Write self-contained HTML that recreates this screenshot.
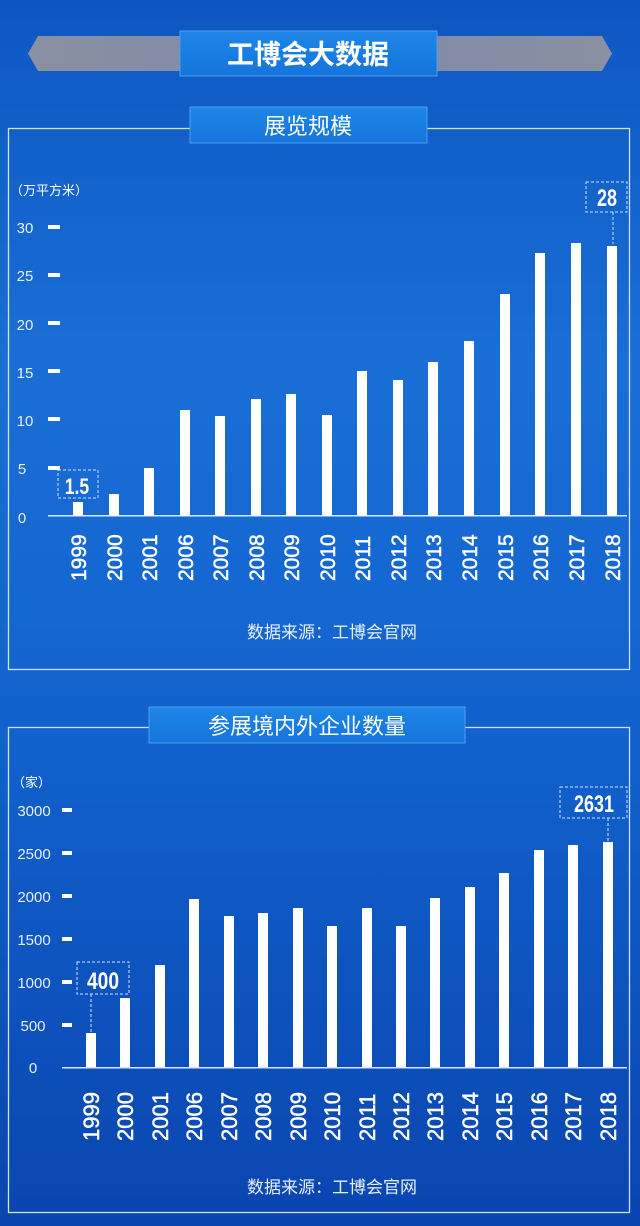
<!DOCTYPE html>
<html><head><meta charset="utf-8"><style>
html,body{margin:0;padding:0;width:640px;height:1226px;overflow:hidden}
body{background:linear-gradient(180deg,#0d56c2 0%,#1a6fd6 30%,#1466d0 50%,#1160cb 62%,#0a45b0 100%)}
</style></head><body>
<svg width="640" height="1226" xmlns="http://www.w3.org/2000/svg" style="position:absolute;left:0;top:0;font-family:'Liberation Sans','Noto Sans CJK SC',sans-serif">
<defs>
<linearGradient id="bx" x1="0" y1="0" x2="0" y2="1"><stop offset="0" stop-color="#1d86e6"/><stop offset="1" stop-color="#1574dc"/></linearGradient>
<linearGradient id="gr" x1="0" y1="0" x2="1" y2="0"><stop offset="0" stop-color="#8a90a4"/><stop offset="0.5" stop-color="#7d8aa8"/><stop offset="1" stop-color="#8a90a4"/></linearGradient>
</defs>
<polygon points="38,36 602,36 612,53.5 602,71 38,71 28,53.5" fill="url(#gr)"/>
<rect x="180" y="31" width="257" height="45" fill="url(#bx)" stroke="#4aa0f0" stroke-width="1"/>
<text x="308" y="64" fill="#fff" font-size="27" font-weight="bold" text-anchor="middle" font-family="'Noto Sans CJK SC',sans-serif">工博会大数据</text>

<rect x="8.5" y="128.5" width="621" height="541" fill="none" stroke="#cfe3ff" stroke-width="1.3"/>
<rect x="190" y="107" width="237" height="36" fill="url(#bx)" stroke="#4aa0f0"/>
<text x="308" y="134" fill="#fff" font-size="22" text-anchor="middle" font-family="'Noto Sans CJK SC',sans-serif">展览规模</text>
<text x="10" y="195" fill="#fff" font-size="13" font-family="'Noto Sans CJK SC',sans-serif">（万平方米）</text>
<g fill="#e8f0ff" font-size="15" text-anchor="middle">
<text x="25" y="233">30</text><text x="25" y="281">25</text><text x="25" y="330">20</text><text x="25" y="378">15</text><text x="25" y="426">10</text><text x="22" y="474">5</text><text x="22" y="523">0</text>
</g>
<g fill="#fff">
<rect x="48" y="225" width="12" height="4"/><rect x="48" y="273" width="12" height="4"/><rect x="48" y="321" width="12" height="4"/><rect x="48" y="369" width="12" height="4"/><rect x="48" y="417" width="12" height="4"/><rect x="48" y="466" width="12" height="4"/>
<rect x="48" y="515" width="579" height="1.5" fill="#d8e8ff"/>
<rect x="73" y="502" width="10" height="14"/>
<rect x="109" y="494" width="10" height="22"/>
<rect x="144" y="468" width="10" height="48"/>
<rect x="180" y="410" width="10" height="106"/>
<rect x="215" y="416" width="10" height="100"/>
<rect x="251" y="399" width="10" height="117"/>
<rect x="286" y="394" width="10" height="122"/>
<rect x="322" y="415" width="10" height="101"/>
<rect x="357" y="371" width="10" height="145"/>
<rect x="393" y="380" width="10" height="136"/>
<rect x="428" y="362" width="10" height="154"/>
<rect x="464" y="341" width="10" height="175"/>
<rect x="500" y="294" width="10" height="222"/>
<rect x="535" y="253" width="10" height="263"/>
<rect x="571" y="243" width="10" height="273"/>
<rect x="607" y="246" width="10" height="270"/>
</g>
<g fill="none" stroke="#cfe3ff" stroke-dasharray="3,2" stroke-width="1">
<rect x="58" y="470" width="40" height="28"/>
<rect x="586" y="182" width="41" height="30"/>
<line x1="613" y1="212" x2="613" y2="244"/>
</g>
<text x="77" y="494" fill="#fff" font-size="22" font-weight="bold" text-anchor="middle" transform="translate(77,0) scale(0.8,1) translate(-77,0)">1.5</text>
<text x="607" y="206" fill="#fff" font-size="24" font-weight="bold" text-anchor="middle" transform="translate(607,0) scale(0.75,1) translate(-607,0)">28</text>
<g fill="#fff" font-size="21" stroke="#fff" stroke-width="0.5">
<text transform="translate(86,581) rotate(-90)">1999</text>
<text transform="translate(122,581) rotate(-90)">2000</text>
<text transform="translate(157,581) rotate(-90)">2001</text>
<text transform="translate(193,581) rotate(-90)">2006</text>
<text transform="translate(228,581) rotate(-90)">2007</text>
<text transform="translate(264,581) rotate(-90)">2008</text>
<text transform="translate(299,581) rotate(-90)">2009</text>
<text transform="translate(335,581) rotate(-90)">2010</text>
<text transform="translate(370,581) rotate(-90)">2011</text>
<text transform="translate(406,581) rotate(-90)">2012</text>
<text transform="translate(441,581) rotate(-90)">2013</text>
<text transform="translate(477,581) rotate(-90)">2014</text>
<text transform="translate(513,581) rotate(-90)">2015</text>
<text transform="translate(548,581) rotate(-90)">2016</text>
<text transform="translate(584,581) rotate(-90)">2017</text>
<text transform="translate(620,581) rotate(-90)">2018</text>
</g>
<text x="332" y="638" fill="#e8f0ff" font-size="17" text-anchor="middle" font-family="'Noto Sans CJK SC',sans-serif">数据来源：工博会官网</text>

<rect x="8.5" y="727.5" width="621" height="485" fill="none" stroke="#cfe3ff" stroke-width="1.3"/>
<rect x="149" y="707" width="316" height="36" fill="url(#bx)" stroke="#4aa0f0"/>
<text x="307" y="734" fill="#fff" font-size="22" text-anchor="middle" font-family="'Noto Sans CJK SC',sans-serif">参展境内外企业数量</text>
<text x="12" y="787" fill="#fff" font-size="13" font-family="'Noto Sans CJK SC',sans-serif">（家）</text>
<g fill="#e8f0ff" font-size="15" text-anchor="middle">
<text x="34" y="816">3000</text><text x="34" y="859">2500</text><text x="34" y="902">2000</text><text x="34" y="945">1500</text><text x="34" y="988">1000</text><text x="33" y="1031">500</text><text x="33" y="1073">0</text>
</g>
<g fill="#fff">
<rect x="62" y="808" width="10" height="4"/><rect x="62" y="851" width="10" height="4"/><rect x="62" y="894" width="10" height="4"/><rect x="62" y="937" width="10" height="4"/><rect x="62" y="980" width="10" height="4"/><rect x="62" y="1023" width="10" height="4"/>
<rect x="62" y="1067" width="565" height="1.5" fill="#d8e8ff"/>
<rect x="86" y="1033" width="10" height="34"/>
<rect x="120" y="998" width="10" height="69"/>
<rect x="155" y="965" width="10" height="102"/>
<rect x="189" y="899" width="10" height="168"/>
<rect x="224" y="916" width="10" height="151"/>
<rect x="258" y="913" width="10" height="154"/>
<rect x="293" y="908" width="10" height="159"/>
<rect x="327" y="926" width="10" height="141"/>
<rect x="362" y="908" width="10" height="159"/>
<rect x="396" y="926" width="10" height="141"/>
<rect x="430" y="898" width="10" height="169"/>
<rect x="465" y="887" width="10" height="180"/>
<rect x="499" y="873" width="10" height="194"/>
<rect x="534" y="850" width="10" height="217"/>
<rect x="568" y="845" width="10" height="222"/>
<rect x="603" y="842" width="10" height="225"/>
</g>
<g fill="none" stroke="#cfe3ff" stroke-dasharray="3,2" stroke-width="1">
<rect x="77" y="962" width="52" height="32"/>
<line x1="91" y1="994" x2="91" y2="1032"/>
<rect x="560" y="787" width="67" height="31"/>
<line x1="608" y1="818" x2="608" y2="841"/>
</g>
<text x="103" y="989" fill="#fff" font-size="24" font-weight="bold" text-anchor="middle" transform="translate(103,0) scale(0.8,1) translate(-103,0)">400</text>
<text x="594" y="812" fill="#fff" font-size="24" font-weight="bold" text-anchor="middle" transform="translate(594,0) scale(0.75,1) translate(-594,0)">2631</text>
<g fill="#fff" font-size="22" stroke="#fff" stroke-width="0.5">
<text transform="translate(99,1141) rotate(-90)">1999</text>
<text transform="translate(133,1141) rotate(-90)">2000</text>
<text transform="translate(168,1141) rotate(-90)">2001</text>
<text transform="translate(202,1141) rotate(-90)">2006</text>
<text transform="translate(237,1141) rotate(-90)">2007</text>
<text transform="translate(271,1141) rotate(-90)">2008</text>
<text transform="translate(306,1141) rotate(-90)">2009</text>
<text transform="translate(340,1141) rotate(-90)">2010</text>
<text transform="translate(375,1141) rotate(-90)">2011</text>
<text transform="translate(409,1141) rotate(-90)">2012</text>
<text transform="translate(443,1141) rotate(-90)">2013</text>
<text transform="translate(478,1141) rotate(-90)">2014</text>
<text transform="translate(512,1141) rotate(-90)">2015</text>
<text transform="translate(547,1141) rotate(-90)">2016</text>
<text transform="translate(581,1141) rotate(-90)">2017</text>
<text transform="translate(616,1141) rotate(-90)">2018</text>
</g>
<text x="332" y="1193" fill="#e8f0ff" font-size="17" text-anchor="middle" font-family="'Noto Sans CJK SC',sans-serif">数据来源：工博会官网</text>
</svg>
</body></html>
